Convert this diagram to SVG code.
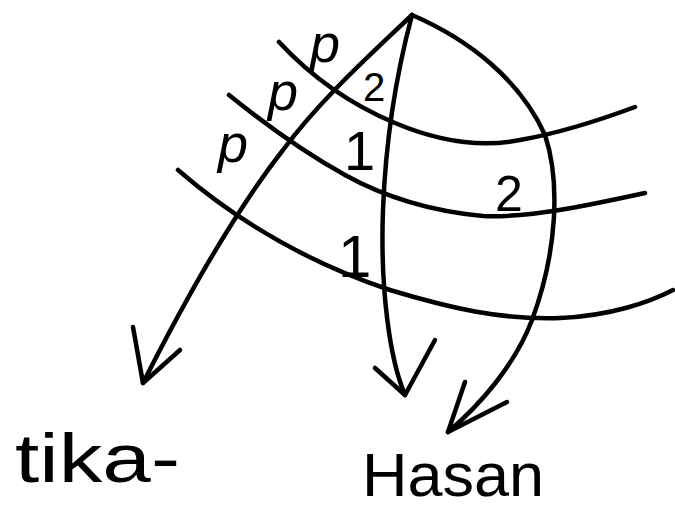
<svg xmlns="http://www.w3.org/2000/svg" width="675" height="512" viewBox="0 0 675 512">
<style>
.s{fill:none;stroke:#000;stroke-width:4.5;stroke-linecap:round;stroke-linejoin:round}
.t{font-family:"Liberation Sans",Arial,sans-serif;fill:#000}
.p{font-family:"Liberation Sans",Arial,sans-serif;font-style:italic;font-size:54px;fill:#000}
</style>
<rect width="675" height="512" fill="#fff"/>
<g id="levels">
<path class="s" d="M279,42 C305,70 340,100 395,123 C440,142 480,148 520,140 C560,133 600,120 635,107"/>
<path class="s" d="M229,95 C260,120 300,150 345,175 C390,200 440,212 483,216 C530,218 590,205 645,193"/>
<path class="s" d="M178,170 C230,215 300,260 390,290 C450,308 500,320 560,318 C610,316 650,302 673,290"/>
</g>
<g id="connectors">
<path class="s" d="M412,15 C370,55 320,100 283,150 C240,205 190,290 143,383"/>
<path class="s" d="M133,327 L143,383 L180,350"/>
<path class="s" d="M412,15 C400,60 386,130 383,210 C380,290 390,360 405,395"/>
<path class="s" d="M375,368 L405,395 L435,340"/>
<path class="s" d="M412,15 C470,40 520,80 545,135 C560,180 558,250 532,320 C515,365 480,405 448,432"/>
<path class="s" d="M465,382 L448,432 L507,402"/>
</g>
<g id="marks">
<text class="p" x="310" y="62">p</text>
<text class="p" x="268" y="110">p</text>
<text class="p" x="218" y="162">p</text>
<text class="t" x="363" y="101" font-size="40">2</text>
<text class="t" x="495" y="211" font-size="50">2</text>
<text class="t" x="344" y="170" font-size="56">1</text>
<text class="t" x="338" y="277" font-size="60">1</text>
</g>
<g id="tika"><text class="t" x="15" y="482" font-size="68" textLength="165" lengthAdjust="spacingAndGlyphs">tika-</text></g>
<g id="hasan"><text class="t" x="362" y="496" font-size="62" textLength="182" lengthAdjust="spacingAndGlyphs">Hasan</text></g>
</svg>
